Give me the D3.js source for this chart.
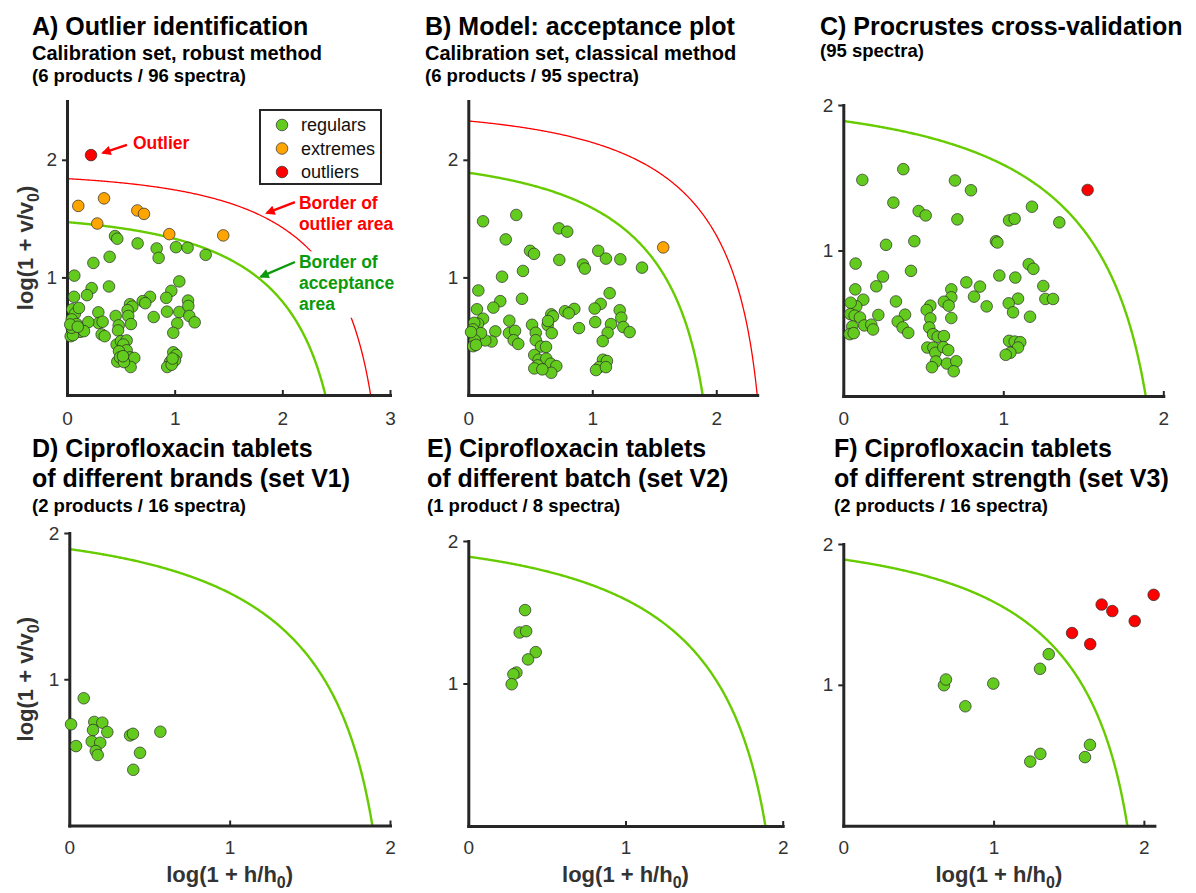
<!DOCTYPE html>
<html>
<head>
<meta charset="utf-8">
<script src="https://cdnjs.cloudflare.com/ajax/libs/d3/7.8.5/d3.min.js"></script>
<style>
body { margin: 0; background: #fff; }
text { font-family: "Liberation Sans", Arial, Helvetica, sans-serif; }
</style>
</head>
<body>
<svg id="chart" width="1196" height="893"></svg>
<script>
// titles
const titlesA = ["A) Outlier identification", "Calibration set, robust method", "(6 products / 96 spectra)"];
const titlesB = ["B) Model: acceptance plot", "Calibration set, classical method", "(6 products / 95 spectra)"];
const titlesC = ["C) Procrustes cross-validation", "(95 spectra)"];
const titlesD = ["D) Ciprofloxacin tablets", "of different brands (set V1)", "(2 products / 16 spectra)"];
const titlesE = ["E) Ciprofloxacin tablets", "of different batch (set V2)", "(1 product / 8 spectra)"];
const titlesF = ["F) Ciprofloxacin tablets", "of different strength (set V3)", "(2 products / 16 spectra)"];

const legendLabels = ["regulars", "extremes", "outliers"];

// [log(1 + h/h0), log(1 + v/v0)]
const regularsA = [[0.446,1.351],[0.467,1.329],[0.656,1.289],[0.833,1.246],[0.851,1.166],[1.012,1.257],[1.120,1.252],[1.288,1.192],[0.396,1.175],[0.245,1.123],[0.068,1.015],[0.390,0.923],[0.229,0.909],[0.186,0.849],[0.065,0.835],[1.043,0.966],[0.969,0.886],[0.922,0.826],[0.771,0.835],[0.703,0.798],[0.727,0.781],[0.585,0.772],[0.606,0.752],[0.563,0.721],[0.569,0.672],[0.594,0.603],[0.452,0.672],[0.480,0.592],[0.474,0.549],[0.291,0.703],[0.294,0.612],[0.331,0.623],[0.198,0.620],[0.805,0.663],[0.929,0.709],[1.043,0.706],[1.124,0.803],[1.127,0.757],[1.136,0.672],[1.186,0.618],[1.024,0.609],[0.987,0.529],[0.049,0.729],[0.074,0.692],[0.111,0.740],[0.044,0.643],[0.090,0.603],[0.049,0.543],[0.121,0.537],[0.158,0.543],[0.034,0.500],[0.056,0.509],[0.322,0.515],[0.350,0.500],[0.461,0.429],[0.501,0.458],[0.554,0.464],[0.523,0.429],[0.554,0.380],[0.483,0.372],[0.467,0.284],[0.492,0.320],[0.585,0.320],[0.625,0.315],[0.591,0.238],[0.529,0.280],[0.987,0.363],[1.015,0.340],[1.003,0.295],[0.956,0.280],[0.931,0.238],[0.972,0.258],[0.044,0.572],[0.030,0.600],[0.100,0.580],[0.520,0.330],[0.980,0.310]];
const extremesA = [[0.105,1.608],[0.344,1.672],[0.281,1.458],[0.653,1.569],[0.715,1.540],[0.950,1.368],[1.451,1.357]];
const outliersA = [[0.223,2.040]];

const regularsB = [[0.119,1.477],[0.387,1.531],[0.302,1.323],[0.731,1.417],[0.798,1.389],[0.498,1.226],[0.530,1.200],[0.734,1.149],[0.925,1.109],[0.940,1.075],[1.048,1.226],[1.110,1.160],[1.226,1.154],[1.401,1.083],[0.441,1.055],[0.272,1.006],[0.081,0.889],[0.258,0.798],[0.202,0.743],[0.433,0.818],[0.070,0.729],[1.140,0.866],[1.068,0.775],[1.019,0.735],[0.855,0.732],[0.780,0.712],[0.810,0.695],[1.221,0.721],[1.234,0.657],[1.250,0.578],[1.301,0.535],[1.151,0.603],[1.124,0.529],[1.084,0.458],[1.024,0.620],[0.893,0.569],[0.669,0.686],[0.683,0.669],[0.640,0.595],[0.673,0.526],[0.643,0.629],[0.514,0.597],[0.544,0.529],[0.544,0.466],[0.586,0.412],[0.627,0.409],[0.532,0.340],[0.567,0.300],[0.629,0.309],[0.560,0.252],[0.532,0.226],[0.665,0.266],[0.710,0.246],[0.669,0.189],[0.597,0.218],[0.331,0.632],[0.328,0.526],[0.377,0.546],[0.366,0.466],[0.403,0.434],[0.218,0.541],[0.188,0.455],[0.137,0.464],[0.119,0.649],[0.078,0.606],[0.048,0.614],[0.038,0.558],[0.102,0.526],[0.052,0.466],[0.040,0.415],[0.062,0.426],[1.086,0.300],[1.118,0.289],[1.056,0.237],[1.030,0.212],[1.110,0.237],[0.022,0.535]];
const extremesB = [[1.572,1.255]];

const regularsC = [[0.119,1.485],[0.375,1.559],[0.698,1.481],[0.798,1.414],[0.313,1.329],[0.471,1.271],[0.515,1.241],[0.713,1.214],[1.036,1.207],[1.071,1.218],[1.179,1.301],[1.350,1.193],[0.954,1.064],[0.963,1.055],[0.444,1.064],[0.267,1.039],[0.077,0.910],[0.423,0.860],[0.248,0.821],[0.206,0.754],[0.075,0.733],[1.159,0.906],[1.188,0.874],[0.975,0.828],[1.075,0.814],[0.769,0.781],[0.854,0.752],[0.817,0.683],[0.896,0.616],[1.250,0.756],[1.263,0.667],[1.311,0.667],[1.092,0.669],[1.034,0.637],[1.061,0.575],[1.167,0.545],[0.675,0.733],[0.675,0.678],[0.629,0.648],[0.659,0.621],[0.544,0.621],[0.521,0.591],[0.544,0.533],[0.537,0.471],[0.675,0.536],[0.561,0.425],[0.590,0.407],[0.629,0.412],[0.525,0.333],[0.563,0.333],[0.575,0.297],[0.625,0.336],[0.656,0.315],[0.579,0.237],[0.554,0.198],[0.648,0.223],[0.706,0.239],[0.690,0.170],[0.329,0.650],[0.386,0.559],[0.340,0.512],[0.371,0.471],[0.406,0.434],[0.219,0.557],[0.125,0.662],[0.081,0.616],[0.046,0.641],[0.044,0.563],[0.071,0.552],[0.104,0.540],[0.131,0.485],[0.175,0.490],[0.186,0.457],[0.056,0.478],[0.040,0.425],[0.065,0.432],[1.036,0.379],[1.071,0.374],[1.106,0.370],[1.092,0.333],[1.044,0.297],[1.015,0.283]];
const outliersC = [[1.527,1.416]];

const regularsD = [[0.011,0.692],[0.042,0.543],[0.090,0.870],[0.156,0.708],[0.206,0.703],[0.148,0.653],[0.237,0.639],[0.140,0.575],[0.193,0.566],[0.165,0.509],[0.177,0.482],[0.379,0.616],[0.397,0.627],[0.568,0.641],[0.441,0.497],[0.399,0.381]];

const regularsE = [[0.361,1.515],[0.327,1.358],[0.368,1.367],[0.429,1.220],[0.380,1.169],[0.306,1.077],[0.287,1.065],[0.276,0.995]];

const regularsF = [[0.670,0.997],[0.683,1.038],[0.812,0.848],[0.998,1.009],[1.309,1.114],[1.367,1.218],[1.244,0.455],[1.311,0.510],[1.608,0.487],[1.641,0.574]];
const outliersF = [[1.522,1.368],[1.643,1.289],[1.719,1.570],[1.790,1.524],[1.939,1.453],[2.065,1.639]];

// border intercepts [on v axis, on h axis]
const acceptA = [1.47, 2.40];
const outBorderA = [1.84, 2.82];
const acceptB = [1.89, 1.89];
const outBorderB = [2.33, 2.33];
const acceptCF = [1.89, 1.89];

const GREEN = "#63cb1d", ORANGE = "#ffa500", RED = "#ff0000";
const CURVE_GREEN = "#66cc00", LABEL_GREEN = "#0a9a0a", AXIS = "#262626";
const R = 5.8;

const panels = [
    {titles: titlesA, sizes: [25, 20, 18.5], tx: 32, ty: [35, 60, 82],
     xr: [67, 390], xmax: 3, yr: [395, 101], ymax: 2.5, xticks: [0, 1, 2, 3], xpad: 17,
     regular: regularsA, extreme: extremesA, outlier: outliersA, accept: acceptA, outBorder: outBorderA, yLabel: true},
    {titles: titlesB, sizes: [25, 20, 18.5], tx: 425, ty: [35, 60, 82],
     xr: [468.3, 757.2], xmax: 2.33, yr: [395, 101], ymax: 2.5, xticks: [0, 1, 2], xpad: 17,
     regular: regularsB, extreme: extremesB, outlier: [], accept: acceptB, outBorder: outBorderB},
    {titles: titlesC, sizes: [25, 18.5], tx: 820, ty: [35, 57],
     xr: [843.3, 1163.3], xmax: 2, yr: [396, 105], ymax: 2, xticks: [0, 1, 2], xpad: 16,
     regular: regularsC, extreme: [], outlier: outliersC, accept: acceptCF},
    {titles: titlesD, sizes: [25, 25, 18.5], tx: 32, ty: [457, 487, 512],
     xr: [69.3, 390], xmax: 2, yr: [825.5, 533], ymax: 2, xticks: [0, 1, 2], xpad: 15,
     regular: regularsD, extreme: [], outlier: [], accept: acceptCF, yLabel: true, xLabel: true},
    {titles: titlesE, sizes: [25, 25, 18.5], tx: 427, ty: [457, 487, 512],
     xr: [468.3, 782.7], xmax: 2, yr: [826, 541], ymax: 2, xticks: [0, 1, 2], xpad: 15,
     regular: regularsE, extreme: [], outlier: [], accept: acceptCF, xLabel: true},
    {titles: titlesF, sizes: [25, 25, 18.5], tx: 834, ty: [457, 487, 512],
     xr: [843.3, 1154.4], xmax: 2.07, yr: [825.7, 544], ymax: 2, xticks: [0, 1, 2], xpad: 15,
     regular: regularsF, extreme: [], outlier: outliersF, accept: acceptCF, xLabel: true}
];

const svg = d3.select("#chart");

const defs = svg.append("defs");
[["arrowRed", RED], ["arrowGreen", LABEL_GREEN]].forEach(([id, c]) => {
    defs.append("marker")
        .attr("id", id)
        .attr("viewBox", "0 0 10 10")
        .attr("refX", 8).attr("refY", 5)
        .attr("markerWidth", 5).attr("markerHeight", 4)
        .attr("orient", "auto")
        .append("path").attr("d", "M0,0L10,5L0,10z").attr("fill", c);
});

// acceptance / outlier border: chi-square type boundary through the two intercepts
function borderPoints(b) {
    const a = b[0], c = b[1];
    const ea = Math.exp(a) - 1, ec = Math.exp(c) - 1;
    return d3.range(0, 301).map(i => {
        const h = c * i / 300;
        const r = Math.max(0, 1 - (Math.exp(h) - 1) / ec);
        return [h, Math.log(1 + ea * r)];
    });
}

function drawPanel(p) {
    const x = d3.scaleLinear().domain([0, p.xmax]).range(p.xr);
    const y = d3.scaleLinear().domain([0, p.ymax]).range(p.yr);
    const g = svg.append("g");

    // titles
    p.titles.forEach((t, i) => {
        g.append("text")
            .attr("x", p.tx).attr("y", p.ty[i])
            .attr("font-size", p.sizes[i])
            .attr("font-weight", "bold")
            .attr("fill", "#000")
            .text(t);
    });

    const line = d3.line().x(d => x(d[0])).y(d => y(d[1]));

    if (p.outBorder) {
        g.append("path")
            .attr("d", line(borderPoints(p.outBorder)))
            .attr("fill", "none").attr("stroke", RED).attr("stroke-width", 1.3);
    }
    g.append("path")
        .attr("d", line(borderPoints(p.accept)))
        .attr("fill", "none").attr("stroke", CURVE_GREEN).attr("stroke-width", 2.4);

    // axes
    const gx = g.append("g")
        .attr("transform", `translate(0,${p.yr[0]})`)
        .call(d3.axisBottom(x).tickValues(p.xticks).tickSize(-5).tickSizeOuter(0)
            .tickPadding(p.xpad).tickFormat(d3.format("d")));
    const gy = g.append("g")
        .attr("transform", `translate(${p.xr[0]},0)`)
        .call(d3.axisLeft(y).tickValues([1, 2]).tickSize(5).tickSizeOuter(0)
            .tickPadding(5).tickFormat(d3.format("d")));
    [gx, gy].forEach(a => {
        a.select(".domain").attr("stroke", AXIS).attr("stroke-width", 3).attr("stroke-linecap", "square");
        a.selectAll(".tick line").attr("stroke", AXIS).attr("stroke-width", 2);
        a.selectAll(".tick text").attr("fill", "#333").attr("font-size", 19)
            .attr("font-family", '"Liberation Sans", Arial, sans-serif');
    });

    if (p.annot) p.annot(g, x, y);

    // points
    const groups = [[p.regular, GREEN], [p.extreme, ORANGE], [p.outlier, RED]];
    groups.forEach(([data, col]) => {
        g.append("g").selectAll("circle")
            .data(data)
            .join("circle")
            .attr("cx", d => x(d[0]))
            .attr("cy", d => y(d[1]))
            .attr("r", R)
            .attr("fill", col)
            .attr("stroke", "#2a2a2a")
            .attr("stroke-width", 0.7);
    });

    if (p.xLabel) {
        const t = g.append("text")
            .attr("x", (p.xr[0] + p.xr[1]) / 2).attr("y", p.yr[0] + 56)
            .attr("text-anchor", "middle")
            .attr("font-size", 22).attr("font-weight", "bold").attr("fill", "#333");
        t.append("tspan").text("log(1 + h/h");
        t.append("tspan").attr("dy", 6).attr("font-size", 16).text("0");
        t.append("tspan").attr("dy", -6).text(")");
    }
    if (p.yLabel) {
        const cy = (p.yr[0] + p.yr[1]) / 2;
        const t = g.append("text")
            .attr("transform", `translate(33,${cy}) rotate(-90)`)
            .attr("text-anchor", "middle")
            .attr("font-size", 22).attr("font-weight", "bold").attr("fill", "#333");
        t.append("tspan").text("log(1 + v/v");
        t.append("tspan").attr("dy", 6).attr("font-size", 16).text("0");
        t.append("tspan").attr("dy", -6).text(")");
    }
}

// annotations of panel A (data coordinates)
const annotA = [
    {lines: ["Outlier"], color: RED, marker: "arrowRed", at: [0.613, 2.095], from: [0.557, 2.126], to: [0.334, 2.058]},
    {lines: ["Border of", "outlier area"], color: RED, marker: "arrowRed", at: [2.154, 1.579], from: [2.117, 1.641], to: [1.857, 1.548]},
    {lines: ["Border of", "acceptance", "area"], color: LABEL_GREEN, marker: "arrowGreen", at: [2.154, 1.077], from: [2.117, 1.131], to: [1.801, 1.006], bg: true}
];

panels[0].annot = (g, x, y) => {
    annotA.forEach(a => {
        const tx = x(a.at[0]), ty = y(a.at[1]);
        if (a.bg) {
            g.append("rect")
                .attr("x", tx - 2).attr("y", ty - 17)
                .attr("width", 96).attr("height", 20.8 * a.lines.length + 4)
                .attr("fill", "#fff");
        }
        a.lines.forEach((l, i) => {
            g.append("text")
                .attr("x", tx).attr("y", ty + i * 20.8)
                .attr("font-size", 17.5).attr("font-weight", "bold")
                .attr("fill", a.color).text(l);
        });
        g.append("line")
            .attr("x1", x(a.from[0])).attr("y1", y(a.from[1]))
            .attr("x2", x(a.to[0])).attr("y2", y(a.to[1]))
            .attr("stroke", a.color).attr("stroke-width", 2.4)
            .attr("marker-end", `url(#${a.marker})`);
    });

    // legend
    const lg = g.append("g").attr("transform", "translate(260,110)");
    lg.append("rect").attr("width", 121).attr("height", 74)
        .attr("fill", "#fff").attr("stroke", AXIS).attr("stroke-width", 2);
    const cols = [GREEN, ORANGE, RED];
    legendLabels.forEach((lab, i) => {
        lg.append("circle").attr("cx", 22).attr("cy", 15 + i * 23.5).attr("r", R)
            .attr("fill", cols[i]).attr("stroke", "#2a2a2a").attr("stroke-width", 0.7);
        lg.append("text").attr("x", 41).attr("y", 15 + i * 23.5).attr("dy", "0.35em")
            .attr("font-size", 18).attr("fill", "#111").text(lab);
    });
};

panels.forEach(drawPanel);
</script>
</body>
</html>
